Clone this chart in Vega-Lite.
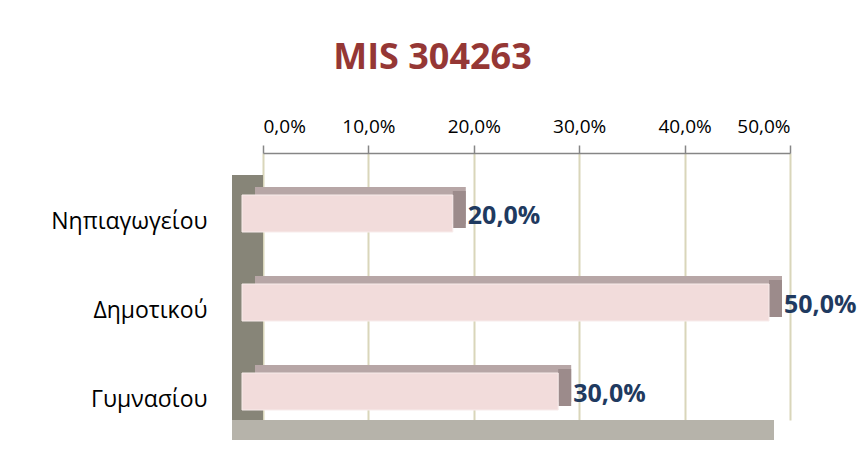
{
  "$schema": "https://vega.github.io/schema/vega-lite/v6.json",
  "width": 527,
  "height": 267,
  "autosize": {"type": "none"},
  "padding": {"left": 263, "top": 153, "right": 72, "bottom": 52},
  "background": "white",
  "title": {"text": "MIS 304263", "fontSize": 36, "color": "#953735", "font": "Open Sans", "fontWeight": "bold", "anchor": "middle", "dx": -94, "offset": 40},
  "data": {"values": [
    {"cat": "Νηπιαγωγείου", "v": 0.2},
    {"cat": "Δημοτικού ", "v": 0.5},
    {"cat": "Γυμνασίου", "v": 0.3}
  ]},
  "encoding": {
    "y": {"field": "cat", "type": "nominal", "sort": null, "scale": {"paddingInner": 0, "paddingOuter": 0},
      "axis": {"title": null, "ticks": false, "domain": false, "labelFontSize": 23, "labelFont": "Open Sans", "labelColor": "#000000", "labelPadding": 56, "labelOffset": 24}}
  },
  "layer": [
    {
      "mark": {"type": "rule", "strokeWidth": 31, "color": "#878578", "xOffset": -15.5, "yOffset": 22},
      "encoding": {"x": {"datum": 0, "type": "quantitative", "scale": {"domain": [0, 0.5], "nice": false}}, "y": null}
    },
    {
      "mark": {"type": "rule", "strokeWidth": 20, "color": "#b6b3aa", "xOffset": -31, "x2Offset": -16, "yOffset": 10},
      "encoding": {"x": {"datum": 0, "type": "quantitative"}, "x2": {"datum": 0.5}, "y": {"value": "height"}}
    },
    {
      "mark": {"type": "bar", "size": 37, "color": "#b7a6a6", "xOffset": -8, "yOffset": 8},
      "encoding": {
        "x": {"field": "v", "type": "quantitative", "scale": {"domain": [0, 0.5], "nice": false},
          "axis": {"orient": "top", "title": null, "values": [0, 0.1, 0.2, 0.3, 0.4, 0.5], "format": ".1%", "grid": true, "gridColor": "#d9d6ba", "gridWidth": 2, "tickColor": "#868686", "domainColor": "#868686", "domainWidth": 1.5, "tickWidth": 1.5, "tickSize": 8, "labelFontSize": 19, "labelFont": "Open Sans", "labelColor": "#000000", "labelPadding": 9}}
      }
    },
    {
      "mark": {"type": "tick", "thickness": 13, "size": 37, "color": "#9c8b8b", "xOffset": -14.5, "yOffset": 12, "opacity": 1},
      "encoding": {"x": {"field": "v", "type": "quantitative"}}
    },
    {
      "mark": {"type": "bar", "size": 37, "color": "#f2dcdb", "xOffset": -21, "yOffset": 16, "stroke": "#f8eceb", "strokeWidth": 1},
      "encoding": {"x": {"field": "v", "type": "quantitative"}}
    },
    {
      "mark": {"type": "text", "align": "left", "baseline": "middle", "dx": -6, "dy": 18, "fontSize": 25, "fontWeight": "bold", "font": "Open Sans", "color": "#1f3a60"},
      "encoding": {"x": {"field": "v", "type": "quantitative"}, "text": {"field": "v", "type": "quantitative", "format": ".1%"}}
    }
  ],
  "config": {
    "view": {"stroke": null},
    "locale": {"number": {"decimal": ",", "thousands": ".", "grouping": [3], "currency": ["", " €"]}}
  }
}
